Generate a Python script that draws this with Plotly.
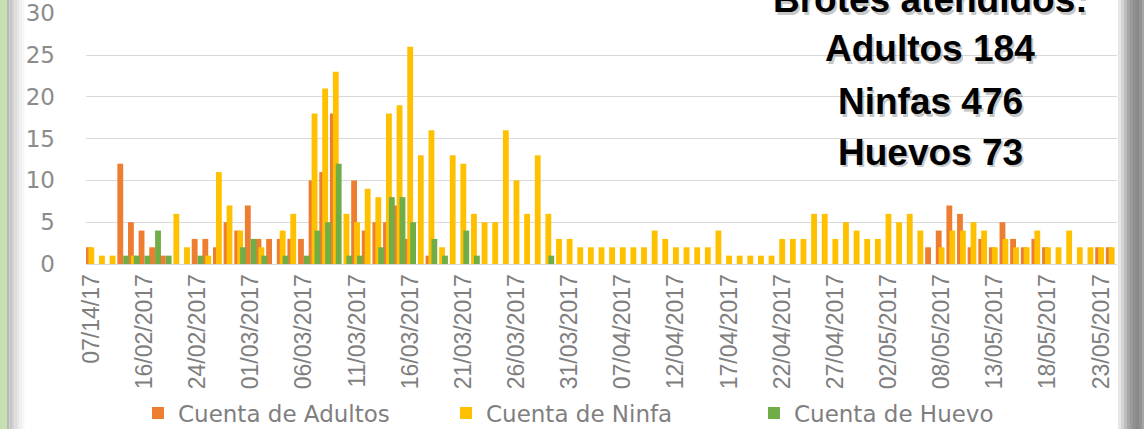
import plotly.graph_objects as go

N = None

fechas = [
    "07/14/17", "10/02/2017", "13/02/2017", "14/02/2017", "15/02/2017",
    "16/02/2017", "17/02/2017", "20/02/2017", "21/02/2017", "23/02/2017",
    "24/02/2017", "25/02/2017", "26/02/2017", "27/02/2017", "28/02/2017",
    "01/03/2017", "02/03/2017", "03/03/2017", "04/03/2017", "05/03/2017",
    "06/03/2017", "07/03/2017", "08/03/2017", "09/03/2017", "10/03/2017",
    "11/03/2017", "12/03/2017", "13/03/2017", "14/03/2017", "15/03/2017",
    "16/03/2017", "17/03/2017", "18/03/2017", "19/03/2017", "20/03/2017",
    "21/03/2017", "22/03/2017", "23/03/2017", "24/03/2017", "25/03/2017",
    "26/03/2017", "27/03/2017", "28/03/2017", "29/03/2017", "30/03/2017",
    "31/03/2017", "01/04/2017", "03/04/2017", "04/04/2017", "06/04/2017",
    "07/04/2017", "08/04/2017", "09/04/2017", "10/04/2017", "11/04/2017",
    "12/04/2017", "13/04/2017", "14/04/2017", "15/04/2017", "16/04/2017",
    "17/04/2017", "18/04/2017", "19/04/2017", "20/04/2017", "21/04/2017",
    "22/04/2017", "23/04/2017", "24/04/2017", "25/04/2017", "26/04/2017",
    "27/04/2017", "28/04/2017", "29/04/2017", "30/04/2017", "01/05/2017",
    "02/05/2017", "03/05/2017", "04/05/2017", "05/05/2017", "06/05/2017",
    "08/05/2017", "09/05/2017", "10/05/2017", "11/05/2017", "12/05/2017",
    "13/05/2017", "14/05/2017", "15/05/2017", "16/05/2017", "17/05/2017",
    "18/05/2017", "19/05/2017", "20/05/2017", "21/05/2017", "22/05/2017",
    "23/05/2017", "24/05/2017",
]

adultos = [
    2, N, N, 12, 5, 4, 2, 1, N, N,
    3, 3, 2, 5, 4, 7, 3, 3, 3, 3,
    3, 10, 11, 18, N, 10, 4, 5, 5, 7,
    3, N, 1, N, N, N, N, N, N, N,
    N, N, N, N, N, N, N, N, N, N,
    N, N, N, N, N, N, N, N, N, N,
    N, N, N, N, N, N, N, N, N, N,
    N, N, N, N, N, N, N, N, N, 2,
    4, 7, 6, 2, 3, 2, 5, 3, 2, 3,
    2, N, N, N, N, 2, 2,
]

ninfas = [
    2, 1, 1, N, 1, N, N, N, 6, 2,
    N, 1, 11, 7, 4, N, 2, N, 4, 6,
    N, 18, 21, 23, 6, 5, 9, 8, 18, 19,
    26, 13, 16, 2, 13, 12, 6, 5, 5, 16,
    10, 6, 13, 6, 3, 3, 2, 2, 2, 2,
    2, 2, 2, 4, 3, 2, 2, 2, 2, 4,
    1, 1, 1, 1, 1, 3, 3, 3, 6, 6,
    3, 5, 4, 3, 3, 6, 5, 6, 4, N,
    2, 4, 4, 5, 4, 2, 3, 2, 2, 4,
    2, 2, 4, 2, 2, 2, 2,
]

huevos = [
    N, N, N, 1, 1, 1, 4, 1, N, N,
    1, N, N, N, 2, 3, 1, N, 1, N,
    1, 4, 5, 12, 1, 1, N, 2, 8, 8,
    5, N, 3, 1, N, 4, 1, N, N, N,
    N, N, N, 1, N, N, N, N, N, N,
    N, N, N, N, N, N, N, N, N, N,
    N, N, N, N, N, N, N, N, N, N,
    N, N, N, N, N, N, N, N, N, N,
    N, N, N, N, N, N, N, N, N, N,
    N, N, N, N, N, N, N,
]

series_names = ["Cuenta de Adultos", "Cuenta de Ninfa", "Cuenta de Huevo"]
series_colors = ["#ED7D31", "#FFC000", "#70AD47"]
tick_labels = fechas[::5]
y_ticks = [0, 5, 10, 15, 20, 25, 30]

title_lines = ["Brotes atendidos:", "Adultos 184", "Ninfas 476", "Huevos 73"]

# ---- layout geometry (pixels) ----
W, H = 1144, 429
L, R, T, B = 86, 1117, 13, 264
pw, ph = R - L, B - T


def px_x(px):
    return (px - L) / pw


def px_y(py):
    return (B - py) / ph


fig = go.Figure()
bw = 0.55
offsets = [-0.55, -0.275, 0.0]
for name, col, vals, off in zip(series_names, series_colors, [adultos, ninfas, huevos], offsets):
    fig.add_trace(go.Bar(
        x=fechas, y=vals, name=name,
        marker=dict(color=col, line=dict(width=0)),
        width=bw, offset=off,
    ))

shapes = []
# left decorative strip
shapes.append(dict(type="rect", xref="paper", yref="paper", x0=px_x(0), x1=px_x(7),
                   y0=px_y(H), y1=px_y(0), fillcolor="#c6e0b4", line=dict(width=0), layer="below"))
grays_left = ["#b9b9b9", "#c6c6c6", "#d2d2d2", "#dddddd", "#e7e7e7", "#f0f0f0", "#f7f7f7"]
for i, g in enumerate(grays_left):
    shapes.append(dict(type="rect", xref="paper", yref="paper", x0=px_x(7 + i * 2.5), x1=px_x(9.5 + i * 2.5),
                       y0=px_y(H), y1=px_y(0), fillcolor=g, line=dict(width=0), layer="below"))
# right decorative strip
grays_right = ["#e6e6e6", "#d4d4d4", "#bdbdbd", "#a8a8a8", "#9a9a9a", "#8f8f8f", "#8a8a8a", "#929292", "#a5a5a5"]
for i, g in enumerate(grays_right):
    shapes.append(dict(type="rect", xref="paper", yref="paper", x0=px_x(1118 + i * 3), x1=px_x(1121 + i * 3),
                       y0=px_y(H), y1=px_y(0), fillcolor=g, line=dict(width=0), layer="below"))

annotations = []
title_y = [-1, 49, 101, 152]
for txt, yy in zip(title_lines, title_y):
    for dx, dy, c in [(2, 3, "rgba(0,0,0,0.22)"), (0, 0, "#000000")]:
        annotations.append(dict(
            text="<b>%s</b>" % txt, x=px_x(930 + dx), y=px_y(yy + dy), xref="paper", yref="paper",
            showarrow=False, xanchor="center", yanchor="middle",
            font=dict(family="Liberation Sans Narrow, Arial Narrow, Liberation Sans", size=37, color=c),
        ))

fig.update_layout(
    width=W, height=H,
    margin=dict(l=L, r=W - R, t=T, b=H - B),
    paper_bgcolor="white", plot_bgcolor="white",
    barmode="overlay",
    showlegend=True,
    legend=dict(orientation="h", x=px_x(138), xanchor="left",
                yref="container", y=1 - 413 / H, yanchor="middle",
                font=dict(family="DejaVu Sans", size=23, color="#7f7f7f"),
                entrywidth=263, entrywidthmode="pixels", traceorder="normal",
                bgcolor="rgba(0,0,0,0)"),
    xaxis=dict(type="category", categoryorder="array", categoryarray=fechas,
               range=[-0.5, len(fechas) - 0.5],
               tickmode="array", tickvals=tick_labels, ticktext=tick_labels,
               tickangle=-90, tickfont=dict(family="Liberation Sans", size=23, color="#7f7f7f"),
               showgrid=False, showline=True, linecolor="#d9d9d9", linewidth=1,
               ticks="", automargin=False),
    yaxis=dict(range=[0, 30.03], tickmode="array", tickvals=y_ticks,
               ticktext=[str(v) for v in y_ticks],
               showgrid=True, gridcolor="#d9d9d9", gridwidth=1,
               zeroline=False, tickfont=dict(family="DejaVu Sans", size=23, color="#8c8c8c"),
               ticks="", ticklabelstandoff=30, ticklabeloverflow="allow", automargin=False),
    shapes=shapes,
    annotations=annotations,
    font=dict(family="DejaVu Sans"),
)

fig.write_html("out.html", config={"displayModeBar": False},
               post_script="document.body.style.margin='0';document.body.style.overflow='hidden';")
